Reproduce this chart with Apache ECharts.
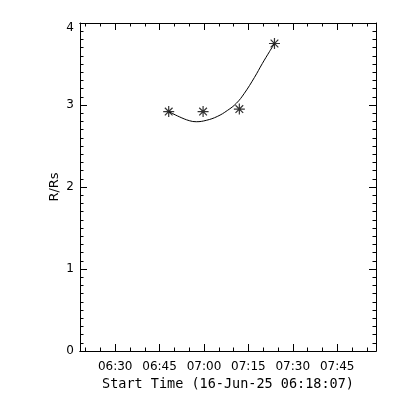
<!DOCTYPE html>
<html>
<head>
<meta charset="utf-8">
<script src="https://cdn.jsdelivr.net/npm/echarts@6/dist/echarts.min.js"></script>
<style>html,body{margin:0;padding:0;background:#fff}#c{width:400px;height:400px}</style>
</head>
<body>
<div id="c"></div>
<script>
// ---- data ----
const axisStart = '06:18:07';
const axisEnd = '07:58:07';
const xTickLabels = ['06:30', '06:45', '07:00', '07:15', '07:30', '07:45'];
const xMinorTicks = ['06:20','06:25','06:35','06:40','06:50','06:55','07:05','07:10','07:20','07:25','07:35','07:40','07:50','07:55'];
const yTickValues = [0, 1, 2, 3, 4];
const pointTimes = ['06:48:05', '06:59:42', '07:11:57', '07:23:49'];
const pointValues = [2.92, 2.92, 2.95, 3.75];
const fitTimes = ['06:48:05','06:51:38','06:55:02','06:57:24','07:00:47','07:04:30','07:07:54','07:10:57','07:13:39','07:17:02','07:19:45','07:22:07','07:23:49'];
const fitValues = [2.92, 2.857, 2.809, 2.796, 2.813, 2.86, 2.933, 3.021, 3.143, 3.335, 3.508, 3.65, 3.75];
const xTitle = 'Start Time (16-Jun-25 06:18:07)';
const yTitle = 'R/Rs';

function toMin(s) {
  const p = s.split(':').map(Number);
  return p[0] * 60 + p[1] + (p[2] || 0) / 60;
}
function fmt(m) {
  const h = Math.floor(m / 60), mm = Math.round(m - h * 60);
  return String(h).padStart(2, '0') + ':' + String(mm).padStart(2, '0');
}
const FONT = 'DejaVu Sans';
const xMin = toMin(axisStart), xMax = toMin(axisEnd);
const majorX = xTickLabels.map(toMin);
const minorX = xMinorTicks.map(toMin);
const yMax = yTickValues[yTickValues.length - 1];

function xAxisDef(pos, custom, len, showLabel, name) {
  return {
    type: 'value', position: pos, min: xMin, max: xMax, gridIndex: 0,
    axisLine: { show: true, onZero: false, lineStyle: { color: '#000', width: 1 } },
    axisTick: { show: true, inside: true, length: len, customValues: custom, lineStyle: { color: '#000', width: 1 } },
    axisLabel: { show: showLabel, customValues: custom, formatter: fmt, color: '#000', fontFamily: FONT, fontSize: 12, margin: 10 },
    splitLine: { show: false },
    name: name || '', nameLocation: 'middle', nameGap: 26, nameMoveOverlap: false,
    nameTextStyle: { color: '#000', fontFamily: 'DejaVu Sans Mono', fontSize: 13.5 }
  };
}
function yAxisDef(pos, showLabel, name) {
  return {
    type: 'value', position: pos, min: 0, max: yMax, interval: 1,
    axisLine: { show: true, onZero: false, lineStyle: { color: '#000', width: 1 } },
    axisTick: { show: true, inside: true, length: 7, lineStyle: { color: '#000', width: 1 } },
    minorTick: { show: true, splitNumber: 10, length: 3.5, lineStyle: { color: '#000', width: 1 } },
    axisLabel: { show: showLabel, color: '#000', fontFamily: FONT, fontSize: 12, margin: 6,
      formatter: v => v === yMax ? '{top|' + v + '}' : String(v),
      rich: { top: { fontFamily: FONT, fontSize: 12, color: '#000', padding: [10, 0, 0, 0] } } },
    splitLine: { show: false },
    name: name || '', nameLocation: 'middle', nameGap: 19, nameMoveOverlap: false,
    nameTextStyle: { color: '#000', fontFamily: FONT, fontSize: 13 }
  };
}

const chart = echarts.init(document.getElementById('c'), null, { renderer: 'canvas' });
chart.setOption({
  animation: false,
  backgroundColor: '#fff',
  grid: { left: 80, right: 24, top: 23, bottom: 49, containLabel: false },
  xAxis: [
    xAxisDef('bottom', majorX, 7, true, xTitle),
    xAxisDef('bottom', minorX, 3.5, false),
    xAxisDef('top', majorX, 7, false),
    xAxisDef('top', minorX, 3.5, false)
  ],
  yAxis: [
    yAxisDef('left', true, yTitle),
    yAxisDef('right', false)
  ],
  series: [
    {
      type: 'line', xAxisIndex: 0, yAxisIndex: 0,
      data: fitTimes.map((t, i) => [toMin(t), fitValues[i]]),
      smooth: 0.4, showSymbol: false, symbol: 'none',
      lineStyle: { color: '#000', width: 1 }
    },
    {
      type: 'scatter', xAxisIndex: 0, yAxisIndex: 0,
      data: pointTimes.map((t, i) => [toMin(t), pointValues[i]]),
      symbol: 'path://M5,0L5,10M0,5L10,5M1.5,1.5L8.5,8.5M1.5,8.5L8.5,1.5',
      symbolSize: 11,
      itemStyle: { color: 'rgba(0,0,0,0)', borderColor: '#000', borderWidth: 1.2 }
    }
  ]
});
</script>
</body>
</html>
